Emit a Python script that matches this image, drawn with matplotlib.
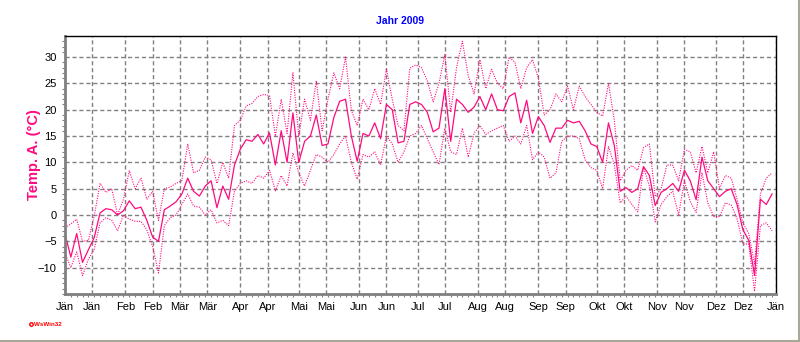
import matplotlib
matplotlib.use("Agg")
import matplotlib.pyplot as plt
from matplotlib.lines import Line2D
import pandas as pd

plt.rcParams['font.family'] = ['Liberation Sans', 'DejaVu Sans']

dates = pd.date_range('2009-01-01', '2009-12-31', freq='3D')

temp_mean = [
    -3.6, -8, -3.5, -9, -6.6, -4.3, 0.4, 1.2, 1, 0,
    0.8, 2.7, 1.2, 1.5, -1, -4.2, -5, 1, 1.7, 2.5,
    4, 7, 4.5, 3.6, 5.5, 6.5, 1.4, 5.5, 3, 9.5,
    12.5, 14.3, 14, 15.3, 13.5, 15.6, 9.5, 16, 10, 19.4,
    10, 14, 15, 19, 13.2, 13.5, 18.5, 21.6, 22, 15,
    10.2, 15.5, 15, 17.5, 14.5, 21, 20, 13.7, 14, 21,
    21.5, 21, 19.5, 15.8, 16.5, 24, 14, 22, 21, 19.5,
    20.5, 22.5, 20, 23, 20, 19.8, 22.5, 23.2, 17.5, 21.8,
    15.5, 18.7, 17, 13.8, 16.5, 16.5, 18, 17.5, 17.8, 16,
    13.5, 13, 10, 17.5, 13.2, 4.5, 5.2, 4.3, 5, 9.2,
    7.5, 1.8, 4.3, 5, 6, 4.5, 8.5, 6.5, 2.9, 11,
    6.5, 5, 3.5, 4.5, 5, 2, -2.8, -4.8, -11.5, 3,
    2, 4,
]

temp_max = [
    -2.4, -1.7, -0.8, -5, -4.8, -0.2, 6, 4.3, 5, 0,
    3, 8.4, 5, 7, 3, 4.5, -1, 5, 5.3, 6,
    6.5, 13.5, 8, 8.5, 11, 10.5, 6, 10, 7, 17,
    18, 20.7, 21.2, 22.5, 22.9, 22.7, 15, 22, 15.5, 27,
    15, 22, 18, 25.5, 16, 22, 27, 24, 30, 19.9,
    17, 22, 20, 24, 21, 27.7, 22, 17, 16, 27.9,
    28.5, 28, 25.5, 21.5, 25, 30.5, 19.5, 28, 33, 26.5,
    23, 29.5, 24, 27.7, 25, 24, 30, 29, 24, 28,
    29.5, 26, 19, 20, 23, 21.5, 24.5, 20, 24.5, 22.5,
    21, 19.5, 18.8, 25, 18, 6.5, 8.5, 9.4, 8.5, 12.8,
    13.5, 3.5, 5, 9.5, 9.5, 6.5, 12.5, 12, 8, 13,
    8, 12, 5, 7.5, 7, 3, -1.5, -3.5, -9.3, 4,
    7, 8,
]

temp_min = [
    -7.2, -10, -7, -11.5, -8.4, -6.5, -1.5, -0.5, -1, -3,
    0, -0.8, -1.2, -1.2, -2.8, -6, -11, -2, -0.5, 0,
    2, 4, 1.7, 1.5, 0, 1, -1.5, -1, -2, 4.5,
    6, 6.5, 6, 7.5, 7, 8.5, 4.6, 7.5, 5.5, 11.8,
    8, 5.5, 8.5, 11.5, 11, 10, 11.5, 13.5, 15, 10,
    6.8, 11.5, 11, 12, 9.5, 15, 13.5, 10, 12, 15,
    15.5, 17, 14.5, 12, 9.6, 16.5, 12, 11.5, 16.5, 11,
    15.5, 17, 15.3, 16, 16.5, 17, 14, 15, 13.5, 17,
    10.5, 12, 11, 7, 8, 14, 15, 15, 14.5, 10.5,
    9, 8.5, 5, 13, 9.5, 2.3, 3.6, 2, 0.6, 9,
    5.5, -1.3, 2, 3.5, 4.5, 0, 6.5, 2.5, 0.5, 8,
    2.3, -0.3, -0.3, 2.3, 1.9, -0.7, -5.5, -5.5, -14.5, -2,
    -1.5, -3,
]

tick_dates = pd.to_datetime([
    '2009-01-01', '2009-01-15', '2009-02-01', '2009-02-15', '2009-03-01', '2009-03-15',
    '2009-04-01', '2009-04-15', '2009-05-01', '2009-05-15', '2009-06-01', '2009-06-15',
    '2009-07-01', '2009-07-15', '2009-08-01', '2009-08-15', '2009-09-01', '2009-09-15',
    '2009-10-01', '2009-10-15', '2009-11-01', '2009-11-15', '2009-12-01', '2009-12-15',
    '2010-01-01'])
tick_labels = ['Jän', 'Jän', 'Feb', 'Feb', 'Mär', 'Mär', 'Apr', 'Apr', 'Mai', 'Mai',
               'Jun', 'Jun', 'Jul', 'Jul', 'Aug', 'Aug', 'Sep', 'Sep', 'Okt', 'Okt',
               'Nov', 'Nov', 'Dez', 'Dez', 'Jän']

pink = '#ff0a80'
grey = '#808080'

fig = plt.figure(figsize=(8, 3.42), dpi=100)
ax = fig.add_axes([65 / 800, 1 - 294 / 342, 711 / 800, 258 / 342])

ax.plot(dates, temp_max, color=pink, lw=0.8, ls=(0, (1, 1.2)))
ax.plot(dates, temp_min, color=pink, lw=0.8, ls=(0, (1, 1.2)))
ax.plot(dates, temp_mean, color=pink, lw=0.9)

ax.set_xlim(pd.Timestamp('2009-01-01'), pd.Timestamp('2010-01-01'))
ax.set_ylim(-15, 34)
ax.set_yticks(range(-10, 31, 5))
ax.set_yticks(range(-15, 34), minor=True)
ax.set_xticks(tick_dates)
ax.set_xticklabels(tick_labels)
ax.set_xticks(pd.date_range('2009-01-01', '2010-01-01', freq='3D'), minor=True)

ax.grid(True, which='major', color=grey, ls=(0, (3, 2)), lw=1.0)
ax.set_axisbelow(True)
ax.tick_params(which='major', length=0, labelsize=8, pad=6, colors='black')
ax.tick_params(which='minor', length=2.5, color=grey, width=0.8)

for side in ['left', 'bottom']:
    ax.spines[side].set_color(grey)
    ax.spines[side].set_linewidth(2)
for side in ['top', 'right']:
    ax.spines[side].set_color('black')
    ax.spines[side].set_linewidth(1)

fig.text(0.5, 1 - 21 / 342, 'Jahr 2009', color='#0000ff', fontweight='bold',
         fontsize=7.5, ha='center', va='center')
fig.text(34 / 800, 1 - 155 / 342, 'Temp. A. (°C)', color=pink, fontweight='bold',
         fontsize=10.5, rotation=90, ha='center', va='center')
fig.text(34 / 800, 1 - 324 / 342, 'WsWin32', color='#ff0000', fontweight='bold',
         fontsize=4.5, ha='left', va='center')
fig.add_artist(Line2D([30.5 / 800], [1 - 324 / 342], marker='o', ms=2.5, mfc='white',
                      mec='#ff0000', mew=1, transform=fig.transFigure))

# Fensterrahmen rechts/unten
fig.add_artist(Line2D([0, 1], [1.5 / 342, 1.5 / 342], color='#a8a898', lw=1.5,
                      transform=fig.transFigure))
fig.add_artist(Line2D([798.5 / 800, 798.5 / 800], [0, 1], color='#a8a898', lw=1.5,
                      transform=fig.transFigure))

fig.savefig('out.png', dpi=100)
